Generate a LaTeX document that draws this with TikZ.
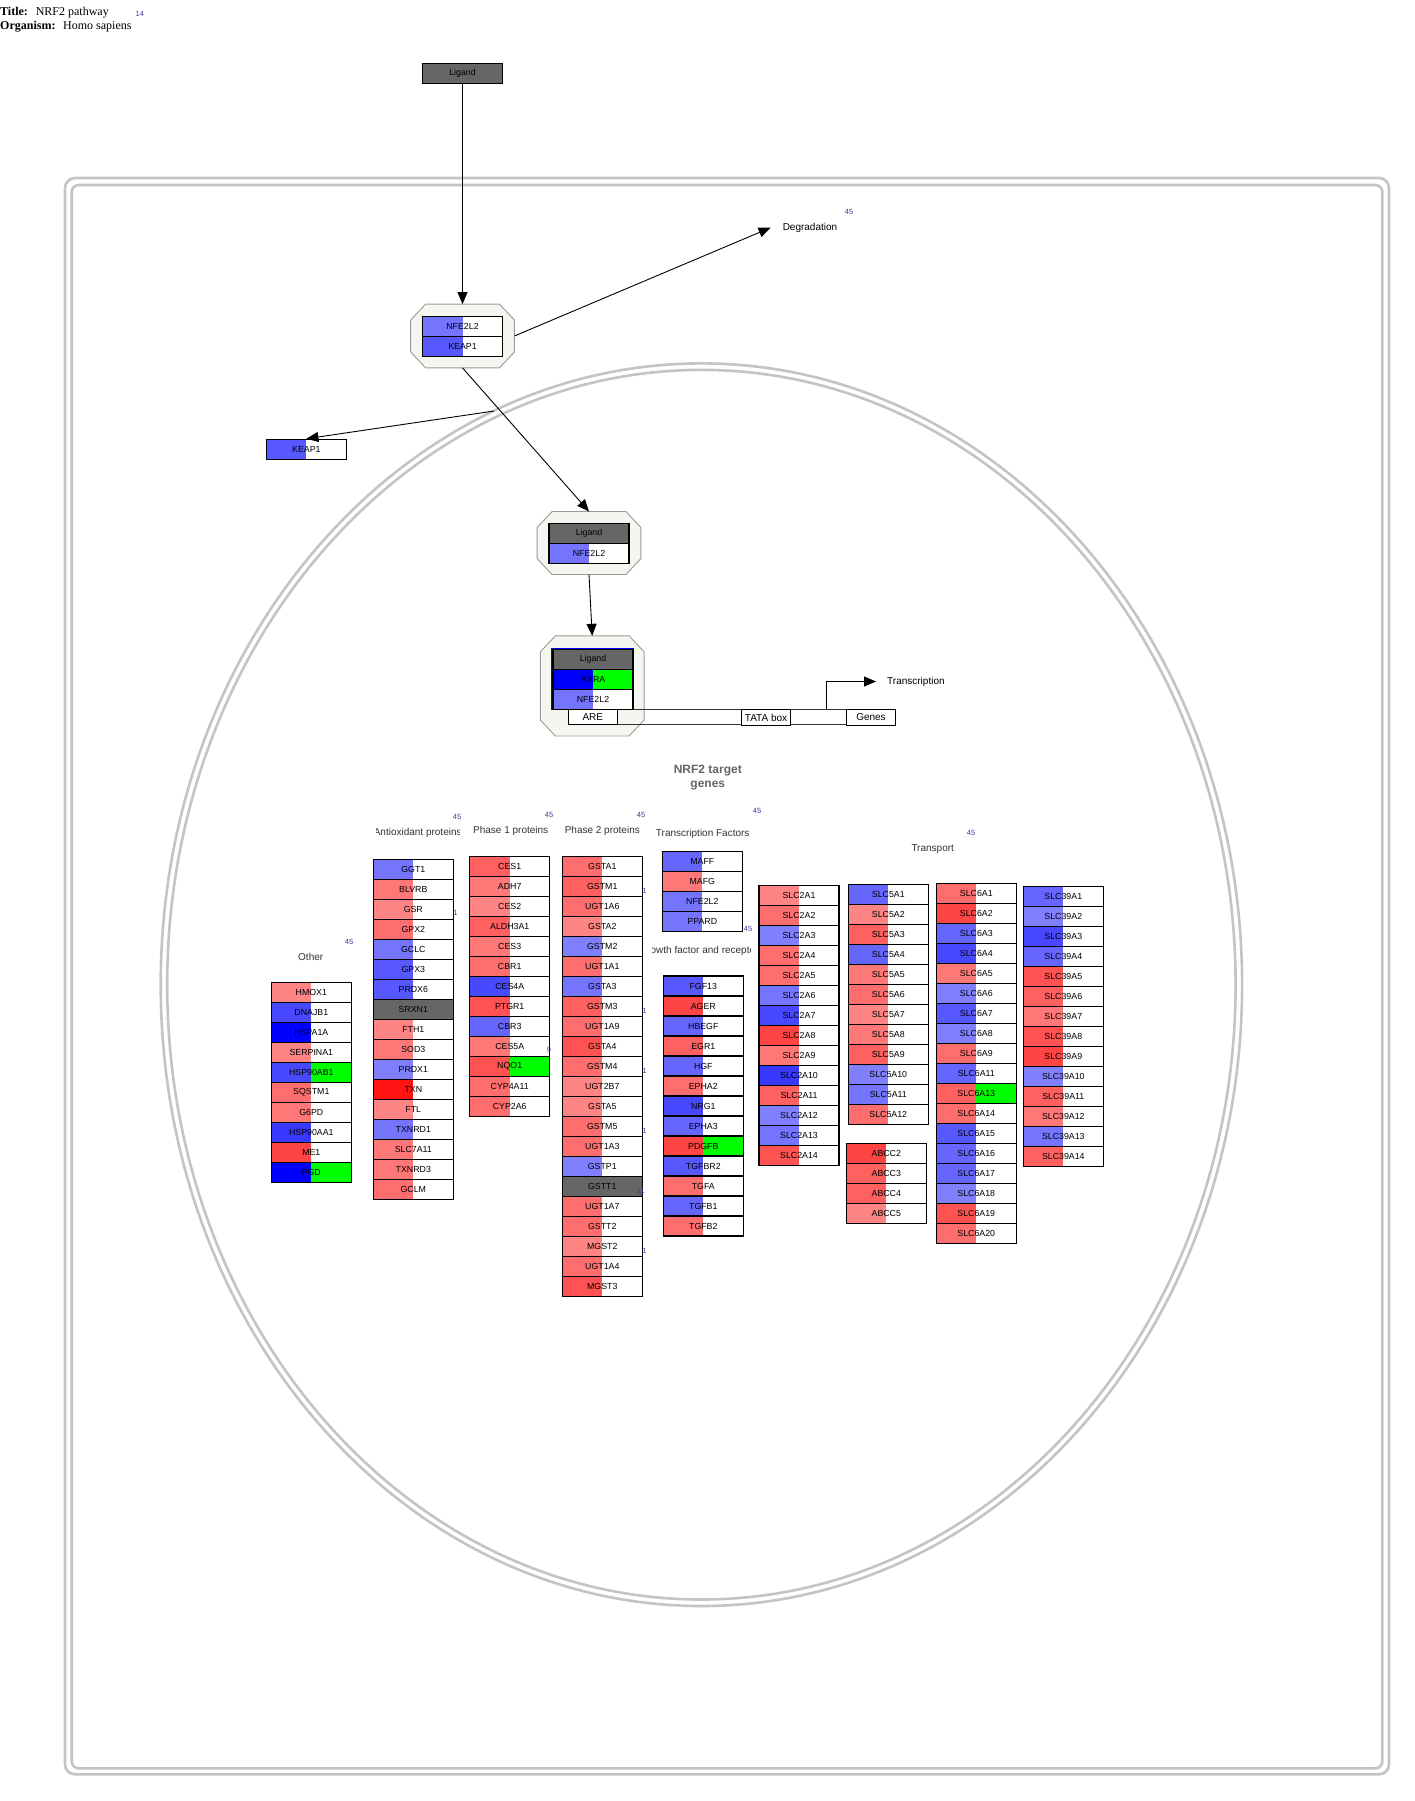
\documentclass[tikz,border=0pt]{standalone}
\usepackage{fontspec}
\setmainfont{Liberation Sans}
\newfontfamily\seriffam{Liberation Serif}
\usetikzlibrary{arrows.meta,calc}
\definecolor{R1}{HTML}{FF8484}
\definecolor{R2}{HTML}{FF7878}
\definecolor{R3}{HTML}{FF6E6E}
\definecolor{R4}{HTML}{FF6060}
\definecolor{R5}{HTML}{FF5252}
\definecolor{R6}{HTML}{FF4444}
\definecolor{R7}{HTML}{FF1414}
\definecolor{B1}{HTML}{8080FF}
\definecolor{B2}{HTML}{7474FF}
\definecolor{B3}{HTML}{6666FF}
\definecolor{B4}{HTML}{5858FF}
\definecolor{B5}{HTML}{4848FF}
\definecolor{B6}{HTML}{3838FF}
\definecolor{B7}{HTML}{0000FF}
\definecolor{GR}{HTML}{666666}
\definecolor{GN}{HTML}{00FF00}
\definecolor{nucgray}{HTML}{C4C4C4}
\definecolor{cfill}{HTML}{F6F6F0}
\definecolor{cline}{HTML}{9A9A9A}
\definecolor{idblue}{HTML}{3C3CA0}
\definecolor{labgray}{HTML}{333333}
\definecolor{titlegray}{HTML}{666666}
\newcommand\gb[6]{%
  \fill[#4] (#1,#2) rectangle ++(80,20);
  \fill[#3] (#1,#2) rectangle ++(40,20);
  \node[genebox] (#6) at ($(#1,#2)+(40,10)$) {#5};}
\newcommand\gcol[3]{%
  \foreach \n/\c/\d [count=\i from 0] in {#3} {\gb{#1}{#2+20*\i}{\c}{\d}{\n}{g-\n}}}
\newcommand\octo[1]{%
  \filldraw[fill=cfill,draw=cline,line width=0.9pt]
    ($(#1.north west)+(15,0)$) -- ($(#1.north east)+(-15,0)$) --
    ($(#1.north east)+(0,16)$) -- ($(#1.south east)+(0,-16)$) --
    ($(#1.south east)+(-15,0)$) -- ($(#1.south west)+(15,0)$) --
    ($(#1.south west)+(0,-16)$) -- ($(#1.north west)+(0,16)$) -- cycle;}
\begin{document}
\begin{tikzpicture}[x=1pt,y=-1pt,
  genebox/.style={draw=black,line width=1.1pt,minimum width=80pt,minimum height=20pt,inner sep=0pt,font=\fontsize{8.8}{10}\selectfont},
  plainbox/.style={draw=black,fill=white,line width=0.9pt,inner sep=0pt,minimum height=16pt,font=\fontsize{10}{12}\selectfont},
  cplx/.style={minimum width=103.4pt,inner sep=0pt},
  grplabel/.style={inner sep=0pt,font=\fontsize{10}{12}\selectfont,text=labgray},
  idlabel/.style={inner sep=0pt,font=\fontsize{7.5}{9}\selectfont,text=idblue},
  conn/.style={line width=0.9pt,-{Triangle[length=12pt,width=10pt]}},
  nuc/.style={draw=nucgray,line width=2.6pt}]
\useasboundingbox (0,0) rectangle (1415,1801);
\fill[white] (0,0) rectangle (1415,1801);
% title
\node[anchor=base west,inner sep=0pt,font=\seriffam\bfseries\fontsize{12}{14}\selectfont] (ttl) at (0,15.5) {Title:};
\node[anchor=base west,inner sep=0pt,font=\seriffam\fontsize{12}{14}\selectfont] (ttlv) at (35.6,15.5) {NRF2 pathway};
\node[idlabel] (id14) at (139.8,14) {14};
\node[anchor=base west,inner sep=0pt,font=\seriffam\bfseries\fontsize{12}{14}\selectfont] (org) at (0,30) {Organism:};
\node[anchor=base west,inner sep=0pt,font=\seriffam\fontsize{12}{14}\selectfont] (orgv) at (63,30) {Homo sapiens};
% cell and nucleus
\draw[nuc,rounded corners=10pt] (65,178) rectangle (1389,1774.3);
\draw[nuc,rounded corners=7pt] (71.7,185) rectangle (1382.3,1768.3);
\draw[nuc] (701.4,984.7) ellipse [x radius=540.7pt, y radius=621.3pt];
\draw[nuc] (701.4,984.7) ellipse [x radius=534.2pt, y radius=614.8pt];
% complexes
\node[cplx,minimum height=63.4pt] (c1) at (462.5,336) {};
\node[cplx,minimum height=62.6pt] (c2) at (589,543) {};
\node[cplx,minimum height=99.7pt] (c3) at (592.2,685.9) {};
\octo{c1}
\octo{c2}
\octo{c3}
% gene region
\node[draw=black!80,line width=0.8pt,minimum width=302.2pt,minimum height=15.5pt,inner sep=0pt] (dna) at (719.4,716.9) {};
\draw[B7,line width=1.5pt] (552.2,648.3) rectangle (633.5,709.3);
% top ligand and complex members
\gb{422.5}{63.3}{GR}{GR}{Ligand}{lig0}
\gb{422.5}{316.7}{B2}{white}{NFE2L2}{c1nfe}
\gb{422.5}{336.7}{B4}{white}{KEAP1}{c1keap}
\gb{266.4}{439.3}{B4}{white}{KEAP1}{keap}
\gb{549}{523.3}{GR}{GR}{Ligand}{lig2}
\gb{549}{543.3}{B2}{white}{NFE2L2}{c2nfe}
\gb{553}{649.3}{GR}{GR}{Ligand}{lig3}
\gb{553}{669.3}{B7}{GN}{RXRA}{c3rxra}
\gb{553}{689.3}{B2}{white}{NFE2L2}{c3nfe}
\node[plainbox,minimum width=49pt,minimum height=15pt] (are) at (592.85,716.8) {ARE};
\node[plainbox,minimum width=49pt] (tata) at (766,717.5) {TATA box};
\node[plainbox,minimum width=49pt] (genes) at (871,717.5) {Genes};
% labels
\node[inner sep=0pt,font=\fontsize{10}{12}\selectfont] (deg) at (810,227.7) {Degradation};
\node[idlabel] (id45a) at (849,212) {45};
\node[anchor=west,inner sep=0pt,font=\fontsize{10}{12}\selectfont] (trans) at (887,681.5) {Transcription};
\coordinate (tstart) at (826,709);
\coordinate (kstart) at (494,411);
% connectors
\draw[conn] (lig0.south) -- (c1.north);
\draw[conn] (c1.east) -- ([xshift=-12pt]deg.west);
\draw[conn] (c1.south) -- (c2.north);
\draw[conn] (kstart) -- (keap.north);
\draw[conn] (c2.south) -- (c3.north);
\draw[conn] (tstart) |- ([xshift=-11pt]trans.west);
\node[align=center,inner sep=0pt,font=\bfseries\fontsize{12}{14}\selectfont,text=titlegray] (nrf2lab) at (707.8,778) {NRF2 target\\genes};
% group labels
\node[grplabel] (lother) at (310.7,957.3) {Other};
\node[idlabel] (id45b) at (349,942.3) {45};
\begin{scope}
\clip (376,820) rectangle (459.5,845);
\node[grplabel] (lanti) at (417.7,832.7) {Antioxidant proteins};
\end{scope}
\node[idlabel] (id45c) at (457,817) {45};
\node[grplabel] (lph1) at (510.7,830.7) {Phase 1 proteins};
\node[idlabel] (id45d) at (549,815) {45};
\node[grplabel] (lph2) at (602.3,830.7) {Phase 2 proteins};
\node[idlabel] (id45e) at (641,815) {45};
\node[grplabel] (ltf) at (702.7,833.7) {Transcription Factors};
\node[idlabel] (id45f) at (757,811.3) {45};
\node[idlabel] (id45g) at (748,929) {45};
\begin{scope}
\clip (652,940) rectangle (750,962);
\node[grplabel] (lgrowth) at (701.5,950.7) {Growth factor and receptors};
\end{scope}
\node[grplabel] (ltrans) at (932.7,848.7) {Transport};
\node[idlabel] (id45h) at (971,833) {45};
% hidden id fragments
\foreach \yy in {891,1011,1071,1131,1251} {\node[idlabel] at (644.5,\yy) {1};}
\node[idlabel] (idf1) at (455.5,913) {1};
% gene columns
\gcol{271.3}{982.3}{HMOX1/R1/white,DNAJB1/B5/white,HSPA1A/B7/white,SERPINA1/R1/white,HSP90AB1/B5/GN,SQSTM1/R3/white,G6PD/R2/white,HSP90AA1/B6/white,ME1/R6/white,PGD/B7/GN}
\gcol{373.3}{859.3}{GGT1/B2/white,BLVRB/R2/white,GSR/R1/white,GPX2/R3/white,GCLC/B2/white,GPX3/B4/white,PRDX6/B4/white,SRXN1/GR/GR,FTH1/R1/white,SOD3/R2/white,PRDX1/B1/white,TXN/R7/white,FTL/R1/white,TXNRD1/B2/white,SLC7A11/R2/white,TXNRD3/R2/white,GCLM/R3/white}
\gcol{469.7}{856.7}{CES1/R4/white,ADH7/R2/white,CES2/R1/white,ALDH3A1/R4/white,CES3/R2/white,CBR1/R3/white,CES4A/B5/white,PTGR1/R5/white,CBR3/B3/white,CES5A/R2/white,NQO1/R5/GN,CYP4A11/R3/white,CYP2A6/R3/white}
\gcol{562.3}{856.7}{GSTA1/R3/white,GSTM1/R4/white,UGT1A6/R3/white,GSTA2/R1/white,GSTM2/B1/white,UGT1A1/R3/white,GSTA3/B2/white,GSTM3/R4/white,UGT1A9/R3/white,GSTA4/R5/white,GSTM4/R3/white,UGT2B7/R1/white,GSTA5/R1/white,GSTM5/R3/white,UGT1A3/R3/white,GSTP1/B1/white,GSTT1/GR/GR,UGT1A7/R3/white,GSTT2/R3/white,MGST2/R1/white,UGT1A4/R3/white,MGST3/R5/white}
\gcol{662.3}{851.3}{MAFF/B3/white,MAFG/R2/white,NFE2L2/B2/white,PPARD/B2/white}
\gcol{663.3}{976}{FGF13/B4/white,AGER/R6/white,HBEGF/B3/white,EGR1/R4/white,HGF/B3/white,EPHA2/R3/white,NRG1/B5/white,EPHA3/B3/white,PDGFB/R6/GN,TGFBR2/B4/white,TGFA/R3/white,TGFB1/B3/white,TGFB2/R3/white}
\gcol{759}{885.7}{SLC2A1/R1/white,SLC2A2/R3/white,SLC2A3/B1/white,SLC2A4/R3/white,SLC2A5/R3/white,SLC2A6/B2/white,SLC2A7/B5/white,SLC2A8/R6/white,SLC2A9/R2/white,SLC2A10/B6/white,SLC2A11/R4/white,SLC2A12/B1/white,SLC2A13/B2/white,SLC2A14/R5/white}
\gcol{848.3}{884.3}{SLC5A1/B3/white,SLC5A2/R1/white,SLC5A3/R4/white,SLC5A4/B3/white,SLC5A5/R2/white,SLC5A6/R3/white,SLC5A7/R1/white,SLC5A8/R2/white,SLC5A9/R4/white,SLC5A10/B1/white,SLC5A11/B2/white,SLC5A12/R3/white}
\gcol{846.3}{1143.3}{ABCC2/R6/white,ABCC3/R4/white,ABCC4/R4/white,ABCC5/R1/white}
\gcol{936.3}{883.3}{SLC6A1/R3/white,SLC6A2/R6/white,SLC6A3/B3/white,SLC6A4/B5/white,SLC6A5/R2/white,SLC6A6/B1/white,SLC6A7/B4/white,SLC6A8/B1/white,SLC6A9/R3/white,SLC6A11/B3/white,SLC6A13/R4/GN,SLC6A14/R3/white,SLC6A15/B4/white,SLC6A16/B3/white,SLC6A17/B3/white,SLC6A18/B1/white,SLC6A19/R5/white,SLC6A20/R3/white}
\gcol{1023.3}{886.7}{SLC39A1/B3/white,SLC39A2/B1/white,SLC39A3/B5/white,SLC39A4/B3/white,SLC39A5/R5/white,SLC39A6/R4/white,SLC39A7/R2/white,SLC39A8/R5/white,SLC39A9/R6/white,SLC39A10/B1/white,SLC39A11/R4/white,SLC39A12/R2/white,SLC39A13/B2/white,SLC39A14/R4/white}
\node[idlabel] (idf9) at (549,1050) {9};
\node[idlabel] (idf11) at (641,1191) {11};
\end{tikzpicture}
\end{document}
